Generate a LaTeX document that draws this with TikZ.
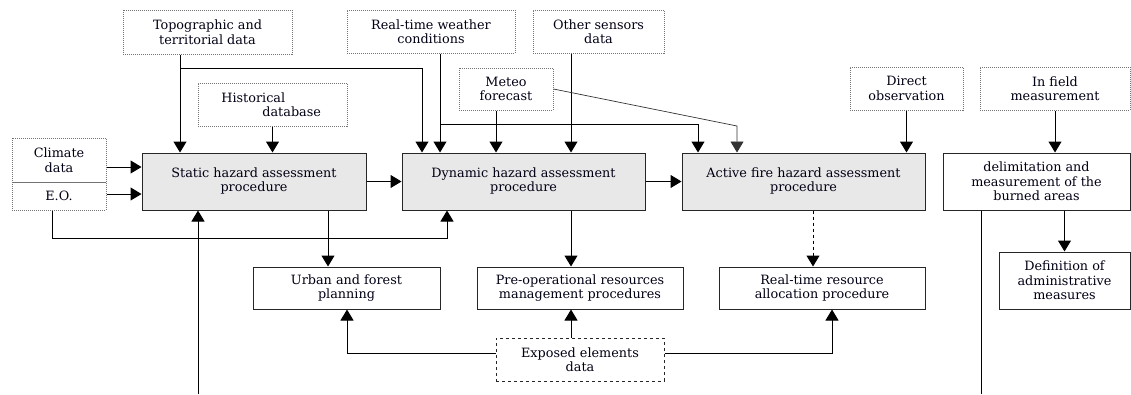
\documentclass[tikz,border=0pt]{standalone}
\usepackage{fontspec}
\setmainfont{DejaVu Serif}
\usetikzlibrary{arrows.meta}
\definecolor{procfill}{HTML}{E8E8E8}
\tikzset{
  base/.style={rectangle, inner sep=0pt, align=center, font=\fontsize{12.8}{14.5}\selectfont, text=black!92!blue},
  inbox/.style={base, draw=black!55, densely dotted, line width=1pt},
  outbox/.style={base, draw=black!85, line width=1pt},
  procbox/.style={outbox, fill=procfill},
  expbox/.style={base, draw=black!85, dashed, line width=1pt},
  arr/.style={line width=1pt, -{Triangle[width=13pt,length=11pt]}},
  link/.style={line width=1pt},
  thinarr/.style={line width=0.7pt, draw=black!80, -{Triangle[width=13pt,length=11pt]}},
}
\begin{document}
\begin{tikzpicture}[x=1pt,y=-1pt]
\useasboundingbox (0,0) rectangle (1131,394);

% input boxes (dotted)
\node[inbox, minimum width=169, minimum height=44] (topo) at (207.5,32) {Topographic and\\territorial data};
\node[inbox, minimum width=168, minimum height=43] (weather) at (431,31.5) {Real-time weather\\conditions};
\node[inbox, minimum width=131, minimum height=43] (other) at (598.5,31.5) {Other sensors\\data};
\node[inbox, minimum width=94, minimum height=42] (meteo) at (506,89) {Meteo\\forecast};
\node[inbox, minimum width=149, minimum height=43] (hist) at (272.5,104.5) {Historical\hspace*{3em}\\\hspace*{3em}database};
\node[inbox, minimum width=94, minimum height=44] (climate) at (59,160) {Climate\\data};
\node[inbox, minimum width=94, minimum height=28] (eo) at (59,196) {E.O.};
\node[inbox, minimum width=113, minimum height=43] (direct) at (906.5,88.5) {Direct\\observation};
\node[inbox, minimum width=150, minimum height=43] (infield) at (1055,88.5) {In field\\measurement};

% assessment procedures
\node[procbox, minimum width=224, minimum height=57, text depth=4pt] (static) at (254,181.5) {Static hazard assessment\\procedure};
\node[procbox, minimum width=243, minimum height=57, text depth=4pt] (dynamic) at (523.5,181.5) {Dynamic hazard assessment\\procedure};
\node[procbox, minimum width=243, minimum height=57, text depth=4pt] (active) at (803.5,181.5) {Active fire hazard assessment\\procedure};
\node[outbox, minimum width=187, minimum height=57] (delim) at (1036.5,181.5) {delimitation and\\measurement of the\\burned areas};

% outputs
\node[outbox, minimum width=131, minimum height=57] (defn) at (1064.5,280.5) {Definition of\\administrative\\measures};
\node[outbox, minimum width=187, minimum height=42] (urban) at (346.5,288) {Urban and forest\\planning};
\node[outbox, minimum width=206, minimum height=42] (preop) at (580,288) {Pre-operational resources\\management procedures};
\node[outbox, minimum width=206, minimum height=42] (rtres) at (822,288) {Real-time resource\\allocation procedure};
\node[expbox, minimum width=168, minimum height=43] (exposed) at (580,359.5) {Exposed elements\\data};

% connector columns and rows
\coordinate (c52) at (52,0);
\coordinate (c180) at (180,0);
\coordinate (c198) at (198,0);
\coordinate (c328) at (328,0);
\coordinate (c347) at (347,0);
\coordinate (c422) at (422,0);
\coordinate (c440) at (440,0);
\coordinate (c447) at (447,0);
\coordinate (c496) at (496,0);
\coordinate (c571) at (571,0);
\coordinate (c698) at (698,0);
\coordinate (c737) at (737,0);
\coordinate (c813) at (813,0);
\coordinate (c832) at (832,0);
\coordinate (c981) at (981,0);
\coordinate (r68) at (0,68);
\coordinate (r124) at (0,124);
\coordinate (r126) at (0,126);
\coordinate (r167) at (0,167);
\coordinate (r194) at (0,194);
\coordinate (r238) at (0,238);
\coordinate (r353) at (0,353);
\coordinate (bottom198) at (198,394);
\coordinate (bottom981) at (981,394);

% into the static procedure
\draw[arr] (topo.south -| c180) -- (static.north -| c180);
\draw[arr] (topo.south -| c180) |- (r68 -| c422) -- (dynamic.north -| c422);
\draw[arr] (hist.south) -- (hist.south |- static.north);
\draw[arr] (climate.east |- r167) -- (static.west |- r167);
\draw[arr] (eo.east |- r194) -- (static.west |- r194);
\draw[arr] (bottom198) -- (static.south -| c198);
\draw[arr] (eo.south -| c52) |- (r238 -| c447) -- (dynamic.south -| c447);

% into the dynamic procedure
\draw[arr] (weather.south -| c440) -- (dynamic.north -| c440);
\draw[arr] (weather.south -| c440) |- (r124 -| c698) -- (active.north -| c698);
\draw[arr] (meteo.south -| c496) -- (dynamic.north -| c496);
\draw[arr] (other.south -| c571) -- (dynamic.north -| c571);
\draw[thinarr] (meteo.east) -- (r126 -| c737) -- (active.north -| c737);

% chain of procedures
\draw[arr] (static) -- (dynamic);
\draw[arr] (dynamic) -- (active);
\draw[arr] (direct.south) -- (direct.south |- active.north);
\draw[arr] (infield.south) -- (infield.south |- delim.north);
\draw[arr] (delim.south -| defn.north) -- (defn.north);
\draw[link] (delim.south -| c981) -- (bottom981);

% outputs
\draw[arr] (static.south -| c328) -- (urban.north -| c328);
\draw[arr] (dynamic.south -| c571) -- (preop.north -| c571);
\draw[arr, dashed] (active.south -| c813) -- (rtres.north -| c813);
\draw[arr] (exposed.north -| c571) -- (preop.south -| c571);
\draw[arr] (exposed.west |- r353) -| (urban.south -| c347);
\draw[arr] (exposed.east |- r353) -| (rtres.south -| c832);
\end{tikzpicture}
\end{document}
